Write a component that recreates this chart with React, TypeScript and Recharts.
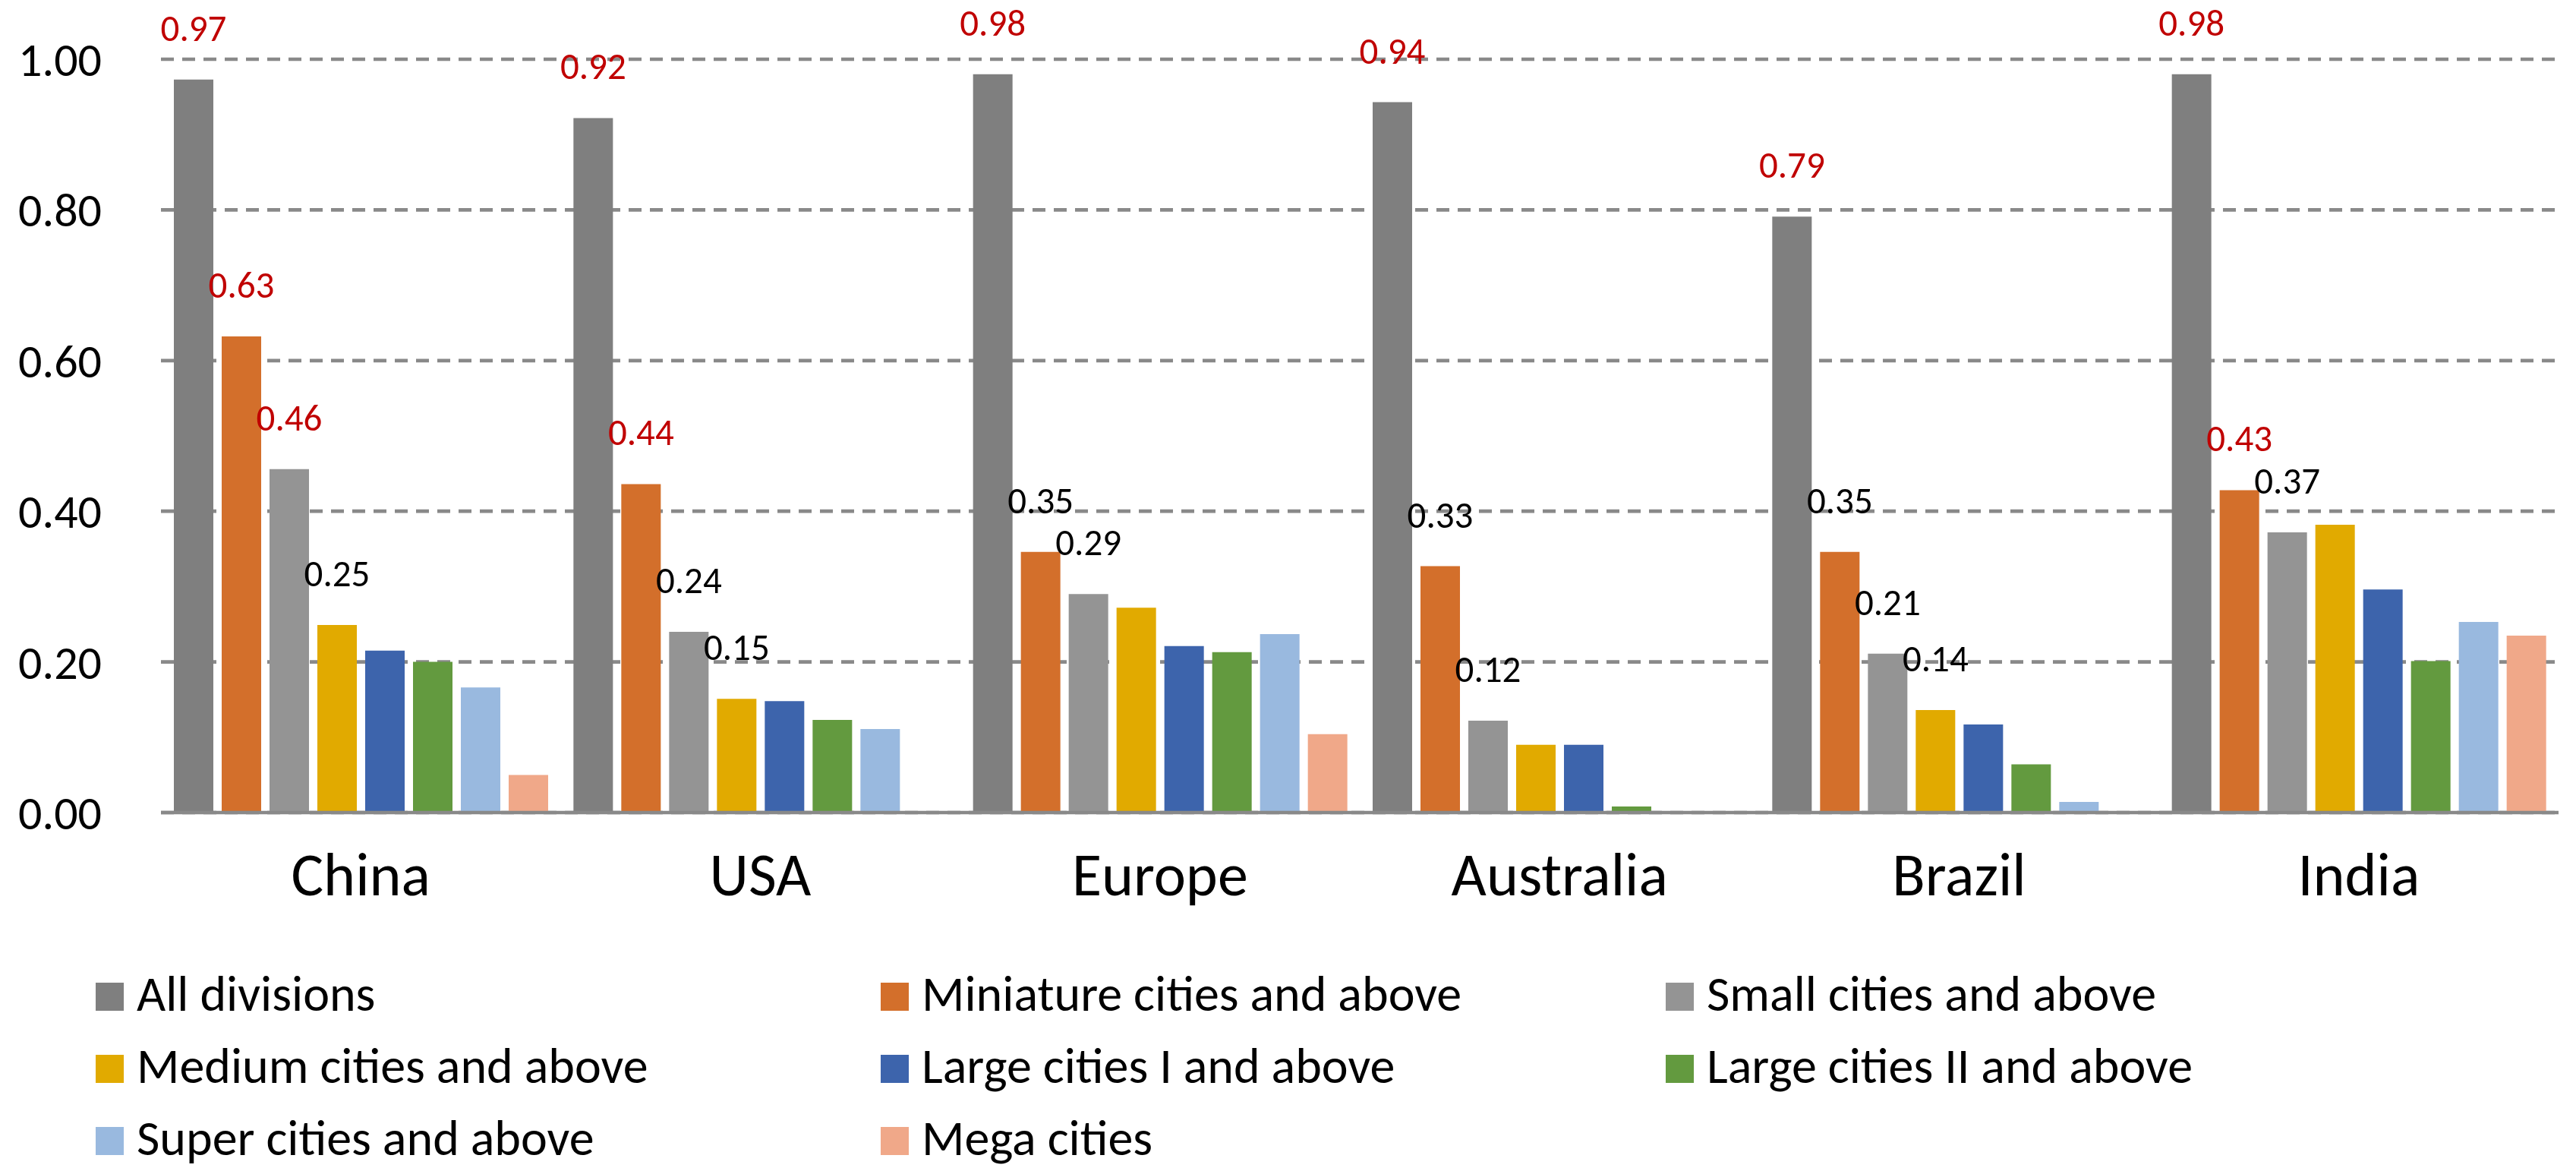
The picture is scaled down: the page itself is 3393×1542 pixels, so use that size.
import React from 'react';
import { BarChart, Bar, XAxis, YAxis, CartesianGrid, Legend, LabelList } from 'recharts';

const categories = ['China', 'USA', 'Europe', 'Australia', 'Brazil', 'India'];

const allDivisions = [0.973, 0.922, 0.98, 0.943, 0.791, 0.98];
const miniatureCities = [0.632, 0.436, 0.346, 0.327, 0.346, 0.428];
const smallCities = [0.456, 0.24, 0.29, 0.122, 0.211, 0.372];
const mediumCities = [0.249, 0.151, 0.272, 0.09, 0.136, 0.382];
const largeCitiesI = [0.215, 0.148, 0.221, 0.09, 0.117, 0.296];
const largeCitiesII = [0.2, 0.123, 0.213, 0.008, 0.064, 0.201];
const superCities = [0.166, 0.111, 0.237, null, 0.014, 0.253];
const megaCities = [0.05, null, 0.104, null, null, 0.235];

// which bars carry a value label: 'hi' = highlighted (red), 'lo' = plain
const allLabels = ['hi', 'hi', 'hi', 'hi', 'hi', 'hi'];
const miniatureLabels = ['hi', 'hi', 'lo', 'lo', 'lo', 'hi'];
const smallLabels = ['hi', 'lo', 'lo', 'lo', 'lo', 'lo'];
const mediumLabels = ['lo', 'lo', null, null, 'lo', null];

const yTicks = [0, 0.2, 0.4, 0.6, 0.8, 1.0];

const series = [
  { key: 'all', name: 'All divisions', values: allDivisions, color: '#7F7F7F', labels: allLabels },
  { key: 'mini', name: 'Miniature cities and above', values: miniatureCities, color: '#D36F2B', labels: miniatureLabels },
  { key: 'small', name: 'Small cities and above', values: smallCities, color: '#949494', labels: smallLabels },
  { key: 'medium', name: 'Medium cities and above', values: mediumCities, color: '#E1AA00', labels: mediumLabels },
  { key: 'large1', name: 'Large cities I and above', values: largeCitiesI, color: '#3D64AC', labels: null },
  { key: 'large2', name: 'Large cities II and above', values: largeCitiesII, color: '#639A3F', labels: null },
  { key: 'super', name: 'Super cities and above', values: superCities, color: '#99B9DF', labels: null },
  { key: 'mega', name: 'Mega cities', values: megaCities, color: '#F0A889', labels: null },
];

const data = categories.map((name, i) => {
  const row: Record<string, any> = { name };
  series.forEach((s) => {
    row[s.key] = s.values[i];
  });
  return row;
});

const FONT = 'Carlito, Lato, sans-serif';

const makeLabel = (flags: (string | null)[]) => (props: any) => {
  const vb = props.viewBox || {};
  const x = props.x ?? vb.x;
  const y = props.y ?? vb.y;
  const width = props.width ?? vb.width;
  const flag = flags[props.index];
  if (!flag || props.value == null || x == null) return null;
  return (
    <text
      x={x + width / 2}
      y={y - 51}
      textAnchor="middle"
      fontFamily={FONT}
      fontSize={49}
      fill={flag === 'hi' ? '#C00000' : '#000000'}
    >
      {Number(props.value).toFixed(2)}
    </text>
  );
};

function LegendGrid() {
  return (
    <div style={{ position: 'relative', width: 3393, height: 260 }}>
      {series.map((s, i) => {
        const col = i % 3;
        const row = Math.floor(i / 3);
        return (
          <div
            key={s.key}
            style={{
              position: 'absolute',
              left: 126 + col * 1034,
              top: row * 95,
              height: 38,
              display: 'flex',
              alignItems: 'center',
              whiteSpace: 'nowrap',
            }}
          >
            <span style={{ display: 'inline-block', width: 37, height: 37, background: s.color }} />
            <span
              style={{
                marginLeft: 17,
                fontFamily: FONT,
                fontSize: 66,
                color: '#000',
                lineHeight: '38px',
                position: 'relative',
                top: -3,
              }}
            >
              {s.name}
            </span>
          </div>
        );
      })}
    </div>
  );
}

export default function App() {
  return (
    <div style={{ position: 'absolute', left: 0, top: 0, background: '#fff' }}>
      <BarChart
        width={3393}
        height={1542}
        data={data}
        margin={{ top: 78, right: 23, bottom: 342, left: 0 }}
        barCategoryGap={17}
        barGap={11}
      >
        <CartesianGrid vertical={false} stroke="#898989" strokeWidth={4.7} strokeDasharray="17 11" />
        <XAxis
          dataKey="name"
          height={130}
          axisLine={{ stroke: '#898989', strokeWidth: 4.7 }}
          tickLine={false}
          tickSize={0}
          tickMargin={52}
          tick={{ fill: '#000', fontSize: 80, fontFamily: FONT }}
        />
        <YAxis
          width={212}
          domain={[0, 1]}
          ticks={yTicks}
          tickFormatter={(v: number) => v.toFixed(2)}
          axisLine={false}
          tickLine={false}
          tickSize={0}
          tickMargin={78}
          tick={{ fill: '#000', fontSize: 62, fontFamily: FONT }}
        />
        <Legend
          layout="horizontal"
          verticalAlign="middle"
          align="center"
          wrapperStyle={{ left: 0, top: 1293, width: 3393 }}
          content={() => <LegendGrid />}
        />
        {series.map((s) => (
          <Bar key={s.key} dataKey={s.key} name={s.name} fill={s.color} isAnimationActive={false}>
            {s.labels && <LabelList dataKey={s.key} content={makeLabel(s.labels)} />}
          </Bar>
        ))}
      </BarChart>
    </div>
  );
}
